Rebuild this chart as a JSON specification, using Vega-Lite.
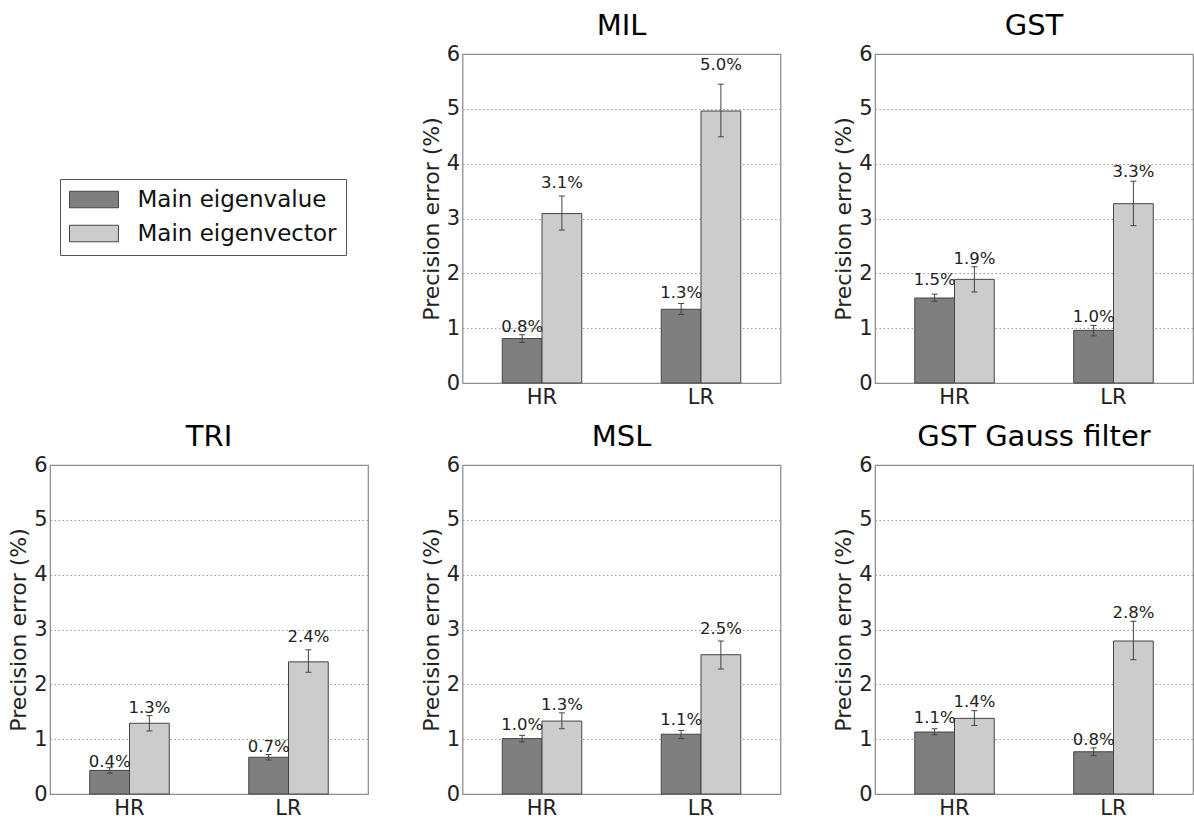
{
  "$schema": "https://vega.github.io/schema/vega-lite/v6.json",
  "padding": {"left": 7, "top": 11, "right": 0, "bottom": 0},
  "background": "white",
  "datasets": {
    "d": [
      {"panel": "MIL", "res": "HR", "type": "Main eigenvalue", "value": 0.81, "lo": 0.74, "hi": 0.88, "label": "0.8%"},
      {"panel": "MIL", "res": "HR", "type": "Main eigenvector", "value": 3.09, "lo": 2.79, "hi": 3.41, "label": "3.1%"},
      {"panel": "MIL", "res": "LR", "type": "Main eigenvalue", "value": 1.345, "lo": 1.25, "hi": 1.45, "label": "1.3%"},
      {"panel": "MIL", "res": "LR", "type": "Main eigenvector", "value": 4.96, "lo": 4.49, "hi": 5.45, "label": "5.0%"},
      {"panel": "GST", "res": "HR", "type": "Main eigenvalue", "value": 1.55, "lo": 1.49, "hi": 1.62, "label": "1.5%"},
      {"panel": "GST", "res": "HR", "type": "Main eigenvector", "value": 1.89, "lo": 1.66, "hi": 2.12, "label": "1.9%"},
      {"panel": "GST", "res": "LR", "type": "Main eigenvalue", "value": 0.96, "lo": 0.86, "hi": 1.05, "label": "1.0%"},
      {"panel": "GST", "res": "LR", "type": "Main eigenvector", "value": 3.27, "lo": 2.87, "hi": 3.68, "label": "3.3%"},
      {"panel": "TRI", "res": "HR", "type": "Main eigenvalue", "value": 0.43, "lo": 0.38, "hi": 0.48, "label": "0.4%"},
      {"panel": "TRI", "res": "HR", "type": "Main eigenvector", "value": 1.29, "lo": 1.15, "hi": 1.43, "label": "1.3%"},
      {"panel": "TRI", "res": "LR", "type": "Main eigenvalue", "value": 0.67, "lo": 0.62, "hi": 0.72, "label": "0.7%"},
      {"panel": "TRI", "res": "LR", "type": "Main eigenvector", "value": 2.41, "lo": 2.22, "hi": 2.63, "label": "2.4%"},
      {"panel": "MSL", "res": "HR", "type": "Main eigenvalue", "value": 1.01, "lo": 0.95, "hi": 1.07, "label": "1.0%"},
      {"panel": "MSL", "res": "HR", "type": "Main eigenvector", "value": 1.33, "lo": 1.19, "hi": 1.48, "label": "1.3%"},
      {"panel": "MSL", "res": "LR", "type": "Main eigenvalue", "value": 1.09, "lo": 1.01, "hi": 1.16, "label": "1.1%"},
      {"panel": "MSL", "res": "LR", "type": "Main eigenvector", "value": 2.54, "lo": 2.28, "hi": 2.79, "label": "2.5%"},
      {"panel": "GST Gauss filter", "res": "HR", "type": "Main eigenvalue", "value": 1.13, "lo": 1.08, "hi": 1.19, "label": "1.1%"},
      {"panel": "GST Gauss filter", "res": "HR", "type": "Main eigenvector", "value": 1.38, "lo": 1.25, "hi": 1.52, "label": "1.4%"},
      {"panel": "GST Gauss filter", "res": "LR", "type": "Main eigenvalue", "value": 0.77, "lo": 0.70, "hi": 0.84, "label": "0.8%"},
      {"panel": "GST Gauss filter", "res": "LR", "type": "Main eigenvector", "value": 2.79, "lo": 2.45, "hi": 3.15, "label": "2.8%"}
    ]
  },
  "config": {
    "font": "DejaVu Sans",
    "view": {"stroke": "#888", "strokeWidth": 1.2},
    "title": {"fontSize": 29, "fontWeight": "normal", "font": "DejaVu Sans", "color": "#000", "offset": 2},
    "axis": {"labelFont": "DejaVu Sans", "titleFont": "DejaVu Sans", "labelFontSize": 21, "titleFontSize": 22, "titleFontWeight": "normal", "labelColor": "#222", "titleColor": "#222", "domain": false, "ticks": false, "labelFlush": false},
    "axisY": {"gridDash": [1.5, 2.5], "gridColor": "#999", "labelPadding": 3, "titlePadding": 3},
    "axisX": {"grid": false, "labelPadding": 3, "labelAngle": 0},
    "legend": {
      "orient": "none", "legendX": 10, "legendY": 125,
      "strokeColor": "#555", "fillColor": "white", "padding": 9,
      "labelFont": "DejaVu Sans", "labelFontSize": 23, "labelColor": "#111", "labelLimit": 500,
      "symbolType": "M-1,-0.75H3.45V0.75H-1Z", "symbolSize": 484,
      "symbolStrokeColor": "#444", "symbolStrokeWidth": 1, "symbolOpacity": 1,
      "rowPadding": 10, "labelOffset": 45.5
    }
  },
  "concat": [
    {
      "width": 318, "height": 329,
      "view": {"stroke": null},
      "data": {"name": "d"},
      "mark": {"type": "bar", "opacity": 0},
      "encoding": {
        "x": {"field": "res", "type": "nominal", "axis": null},
        "y": {"field": "value", "type": "quantitative", "axis": null},
        "color": {"field": "type", "type": "nominal", "title": null, "scale": {"domain": ["Main eigenvalue", "Main eigenvector"], "range": ["#7f7f7f", "#cccccc"]}}
      }
    },
    {
      "title": "MIL", "width": 318, "height": 329,
      "data": {"name": "d"},
      "transform": [{"filter": "datum.panel == 'MIL'"}],
      "encoding": {
        "x": {"field": "res", "type": "nominal", "scale": {"paddingInner": 0.5, "paddingOuter": 0.25}, "axis": {"title": null}},
        "xOffset": {"field": "type", "type": "nominal", "scale": {"paddingInner": 0, "paddingOuter": 0}}
      },
      "layer": [
        {"mark": {"type": "bar", "stroke": "#444", "strokeWidth": 1},
         "encoding": {"y": {"field": "value", "type": "quantitative", "scale": {"domain": [0, 6], "nice": false}, "axis": {"values": [0, 1, 2, 3, 4, 5, 6], "title": "Precision error (%)"}},
                      "color": {"field": "type", "type": "nominal", "title": null, "scale": {"domain": ["Main eigenvalue", "Main eigenvector"], "range": ["#7f7f7f", "#cccccc"]}}}},
        {"mark": {"type": "rule", "color": "#444", "strokeWidth": 1},
         "encoding": {"y": {"field": "lo", "type": "quantitative", "scale": {"domain": [0, 6], "nice": false}, "axis": null}, "y2": {"field": "hi"}}},
        {"mark": {"type": "tick", "color": "#444", "thickness": 1, "size": 6, "opacity": 1},
         "encoding": {"y": {"field": "lo", "type": "quantitative", "scale": {"domain": [0, 6], "nice": false}, "axis": null}}},
        {"mark": {"type": "tick", "color": "#444", "thickness": 1, "size": 6, "opacity": 1},
         "encoding": {"y": {"field": "hi", "type": "quantitative", "scale": {"domain": [0, 6], "nice": false}, "axis": null}}},
        {"mark": {"type": "text", "baseline": "alphabetic", "align": "center", "fontSize": 16.5, "color": "#222"},
         "encoding": {"y": {"field": "value", "type": "quantitative", "scale": {"domain": [0, 5.2174], "nice": false, "zero": true}, "axis": null}, "text": {"field": "label"}}}
      ],
      "resolve": {"scale": {"y": "independent"}}
    },
    {
      "title": "GST", "width": 318, "height": 329,
      "data": {"name": "d"},
      "transform": [{"filter": "datum.panel == 'GST'"}],
      "encoding": {
        "x": {"field": "res", "type": "nominal", "scale": {"paddingInner": 0.5, "paddingOuter": 0.25}, "axis": {"title": null}},
        "xOffset": {"field": "type", "type": "nominal", "scale": {"paddingInner": 0, "paddingOuter": 0}}
      },
      "layer": [
        {"mark": {"type": "bar", "stroke": "#444", "strokeWidth": 1},
         "encoding": {"y": {"field": "value", "type": "quantitative", "scale": {"domain": [0, 6], "nice": false}, "axis": {"values": [0, 1, 2, 3, 4, 5, 6], "title": "Precision error (%)"}},
                      "color": {"field": "type", "type": "nominal", "title": null, "scale": {"domain": ["Main eigenvalue", "Main eigenvector"], "range": ["#7f7f7f", "#cccccc"]}}}},
        {"mark": {"type": "rule", "color": "#444", "strokeWidth": 1},
         "encoding": {"y": {"field": "lo", "type": "quantitative", "scale": {"domain": [0, 6], "nice": false}, "axis": null}, "y2": {"field": "hi"}}},
        {"mark": {"type": "tick", "color": "#444", "thickness": 1, "size": 6, "opacity": 1},
         "encoding": {"y": {"field": "lo", "type": "quantitative", "scale": {"domain": [0, 6], "nice": false}, "axis": null}}},
        {"mark": {"type": "tick", "color": "#444", "thickness": 1, "size": 6, "opacity": 1},
         "encoding": {"y": {"field": "hi", "type": "quantitative", "scale": {"domain": [0, 6], "nice": false}, "axis": null}}},
        {"mark": {"type": "text", "baseline": "alphabetic", "align": "center", "fontSize": 16.5, "color": "#222"},
         "encoding": {"y": {"field": "value", "type": "quantitative", "scale": {"domain": [0, 5.2174], "nice": false, "zero": true}, "axis": null}, "text": {"field": "label"}}}
      ],
      "resolve": {"scale": {"y": "independent"}}
    },
    {
      "title": "TRI", "width": 318, "height": 329,
      "data": {"name": "d"},
      "transform": [{"filter": "datum.panel == 'TRI'"}],
      "encoding": {
        "x": {"field": "res", "type": "nominal", "scale": {"paddingInner": 0.5, "paddingOuter": 0.25}, "axis": {"title": null}},
        "xOffset": {"field": "type", "type": "nominal", "scale": {"paddingInner": 0, "paddingOuter": 0}}
      },
      "layer": [
        {"mark": {"type": "bar", "stroke": "#444", "strokeWidth": 1},
         "encoding": {"y": {"field": "value", "type": "quantitative", "scale": {"domain": [0, 6], "nice": false}, "axis": {"values": [0, 1, 2, 3, 4, 5, 6], "title": "Precision error (%)"}},
                      "color": {"field": "type", "type": "nominal", "title": null, "scale": {"domain": ["Main eigenvalue", "Main eigenvector"], "range": ["#7f7f7f", "#cccccc"]}}}},
        {"mark": {"type": "rule", "color": "#444", "strokeWidth": 1},
         "encoding": {"y": {"field": "lo", "type": "quantitative", "scale": {"domain": [0, 6], "nice": false}, "axis": null}, "y2": {"field": "hi"}}},
        {"mark": {"type": "tick", "color": "#444", "thickness": 1, "size": 6, "opacity": 1},
         "encoding": {"y": {"field": "lo", "type": "quantitative", "scale": {"domain": [0, 6], "nice": false}, "axis": null}}},
        {"mark": {"type": "tick", "color": "#444", "thickness": 1, "size": 6, "opacity": 1},
         "encoding": {"y": {"field": "hi", "type": "quantitative", "scale": {"domain": [0, 6], "nice": false}, "axis": null}}},
        {"mark": {"type": "text", "baseline": "alphabetic", "align": "center", "fontSize": 16.5, "color": "#222"},
         "encoding": {"y": {"field": "value", "type": "quantitative", "scale": {"domain": [0, 5.2174], "nice": false, "zero": true}, "axis": null}, "text": {"field": "label"}}}
      ],
      "resolve": {"scale": {"y": "independent"}}
    },
    {
      "title": "MSL", "width": 318, "height": 329,
      "data": {"name": "d"},
      "transform": [{"filter": "datum.panel == 'MSL'"}],
      "encoding": {
        "x": {"field": "res", "type": "nominal", "scale": {"paddingInner": 0.5, "paddingOuter": 0.25}, "axis": {"title": null}},
        "xOffset": {"field": "type", "type": "nominal", "scale": {"paddingInner": 0, "paddingOuter": 0}}
      },
      "layer": [
        {"mark": {"type": "bar", "stroke": "#444", "strokeWidth": 1},
         "encoding": {"y": {"field": "value", "type": "quantitative", "scale": {"domain": [0, 6], "nice": false}, "axis": {"values": [0, 1, 2, 3, 4, 5, 6], "title": "Precision error (%)"}},
                      "color": {"field": "type", "type": "nominal", "title": null, "scale": {"domain": ["Main eigenvalue", "Main eigenvector"], "range": ["#7f7f7f", "#cccccc"]}}}},
        {"mark": {"type": "rule", "color": "#444", "strokeWidth": 1},
         "encoding": {"y": {"field": "lo", "type": "quantitative", "scale": {"domain": [0, 6], "nice": false}, "axis": null}, "y2": {"field": "hi"}}},
        {"mark": {"type": "tick", "color": "#444", "thickness": 1, "size": 6, "opacity": 1},
         "encoding": {"y": {"field": "lo", "type": "quantitative", "scale": {"domain": [0, 6], "nice": false}, "axis": null}}},
        {"mark": {"type": "tick", "color": "#444", "thickness": 1, "size": 6, "opacity": 1},
         "encoding": {"y": {"field": "hi", "type": "quantitative", "scale": {"domain": [0, 6], "nice": false}, "axis": null}}},
        {"mark": {"type": "text", "baseline": "alphabetic", "align": "center", "fontSize": 16.5, "color": "#222"},
         "encoding": {"y": {"field": "value", "type": "quantitative", "scale": {"domain": [0, 5.2174], "nice": false, "zero": true}, "axis": null}, "text": {"field": "label"}}}
      ],
      "resolve": {"scale": {"y": "independent"}}
    },
    {
      "title": "GST Gauss filter", "width": 318, "height": 329,
      "data": {"name": "d"},
      "transform": [{"filter": "datum.panel == 'GST Gauss filter'"}],
      "encoding": {
        "x": {"field": "res", "type": "nominal", "scale": {"paddingInner": 0.5, "paddingOuter": 0.25}, "axis": {"title": null}},
        "xOffset": {"field": "type", "type": "nominal", "scale": {"paddingInner": 0, "paddingOuter": 0}}
      },
      "layer": [
        {"mark": {"type": "bar", "stroke": "#444", "strokeWidth": 1},
         "encoding": {"y": {"field": "value", "type": "quantitative", "scale": {"domain": [0, 6], "nice": false}, "axis": {"values": [0, 1, 2, 3, 4, 5, 6], "title": "Precision error (%)"}},
                      "color": {"field": "type", "type": "nominal", "title": null, "scale": {"domain": ["Main eigenvalue", "Main eigenvector"], "range": ["#7f7f7f", "#cccccc"]}}}},
        {"mark": {"type": "rule", "color": "#444", "strokeWidth": 1},
         "encoding": {"y": {"field": "lo", "type": "quantitative", "scale": {"domain": [0, 6], "nice": false}, "axis": null}, "y2": {"field": "hi"}}},
        {"mark": {"type": "tick", "color": "#444", "thickness": 1, "size": 6, "opacity": 1},
         "encoding": {"y": {"field": "lo", "type": "quantitative", "scale": {"domain": [0, 6], "nice": false}, "axis": null}}},
        {"mark": {"type": "tick", "color": "#444", "thickness": 1, "size": 6, "opacity": 1},
         "encoding": {"y": {"field": "hi", "type": "quantitative", "scale": {"domain": [0, 6], "nice": false}, "axis": null}}},
        {"mark": {"type": "text", "baseline": "alphabetic", "align": "center", "fontSize": 16.5, "color": "#222"},
         "encoding": {"y": {"field": "value", "type": "quantitative", "scale": {"domain": [0, 5.2174], "nice": false, "zero": true}, "axis": null}, "text": {"field": "label"}}}
      ],
      "resolve": {"scale": {"y": "independent"}}
    }
  ],
  "columns": 3,
  "spacing": {"row": 14, "column": 50.5}
}
